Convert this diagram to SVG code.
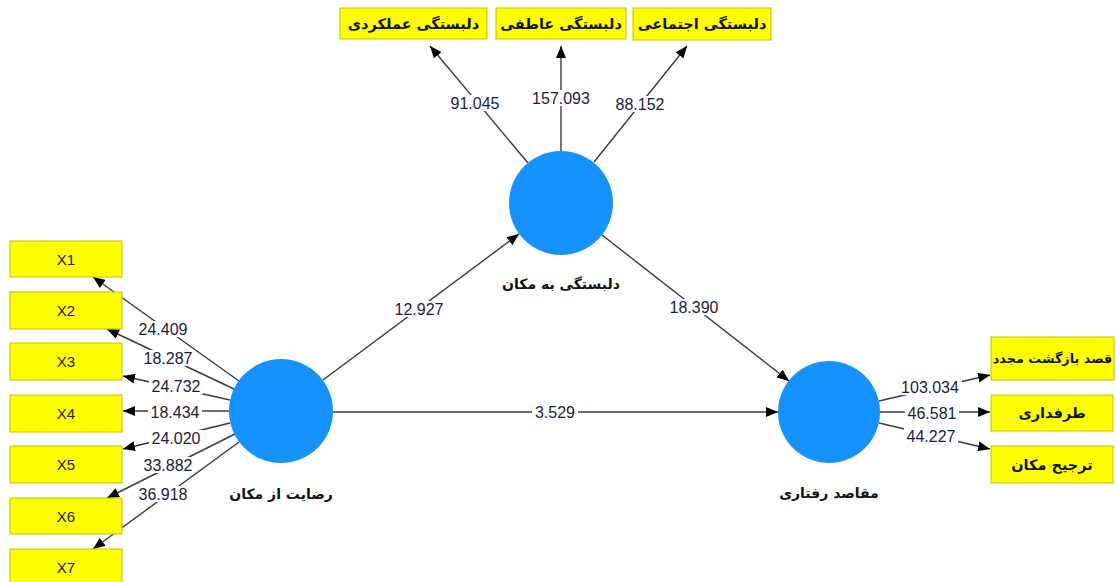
<svg xmlns="http://www.w3.org/2000/svg" width="1116" height="582" viewBox="0 0 1116 582">
<defs>
<marker id="arr" viewBox="0 0 12 10" refX="12" refY="5" markerWidth="12" markerHeight="10" markerUnits="userSpaceOnUse" orient="auto">
<path d="M0,0 L12,5 L0,10 z" fill="#000"/>
</marker>
<style>
.box{fill:#ffff00;stroke:#c2c200;stroke-width:1}
.lv{fill:#1592ff}
.ln{stroke:#3a3a3a;stroke-width:1.4;fill:none;marker-end:url(#arr)}
.bg{fill:#fff}
.num{font-family:"Liberation Sans",Arial,sans-serif;font-size:16px;fill:#1c1c3a;text-anchor:middle;dominant-baseline:central}
.xt{font-family:"Liberation Sans",Arial,sans-serif;font-size:15px;fill:#222;text-anchor:middle;dominant-baseline:central}
.fa{font-family:"DejaVu Sans",sans-serif;font-size:14px;font-weight:bold;fill:#111;text-anchor:middle;dominant-baseline:central}
.fb{font-family:"DejaVu Sans",sans-serif;font-size:14.5px;font-weight:bold;fill:#111;text-anchor:middle;dominant-baseline:central}
</style>
</defs>
<rect width="1116" height="582" fill="#fff"/>
<g id="connectors">
<line class="ln" x1="239" y1="381" x2="93" y2="277"/>
<line class="ln" x1="234" y1="389" x2="107" y2="329"/>
<line class="ln" x1="230" y1="400" x2="123" y2="376"/>
<line class="ln" x1="229" y1="411" x2="123" y2="411"/>
<line class="ln" x1="230" y1="423" x2="123" y2="449"/>
<line class="ln" x1="235" y1="434" x2="107" y2="498"/>
<line class="ln" x1="239" y1="442" x2="93" y2="549"/>
<line class="ln" x1="528" y1="163" x2="430" y2="46"/>
<line class="ln" x1="561" y1="151" x2="561" y2="46"/>
<line class="ln" x1="594" y1="162" x2="687" y2="46"/>
<line class="ln" x1="323" y1="380" x2="519" y2="234"/>
<line class="ln" x1="602" y1="235" x2="789" y2="381"/>
<line class="ln" x1="333" y1="412" x2="778" y2="412"/>
<line class="ln" x1="879" y1="401" x2="990" y2="375"/>
<line class="ln" x1="880" y1="412" x2="990" y2="412"/>
<line class="ln" x1="879" y1="423" x2="990" y2="449"/>
<rect class="bg" x="136" y="321" width="54" height="16"/>
<rect class="bg" x="141" y="350" width="54" height="16"/>
<rect class="bg" x="149" y="378" width="54" height="16"/>
<rect class="bg" x="148" y="404" width="54" height="16"/>
<rect class="bg" x="149" y="430" width="54" height="16"/>
<rect class="bg" x="141" y="457" width="54" height="16"/>
<rect class="bg" x="136" y="486" width="54" height="16"/>
<rect class="bg" x="448" y="95" width="54" height="16"/>
<rect class="bg" x="529" y="90" width="64" height="16"/>
<rect class="bg" x="613" y="96" width="54" height="16"/>
<rect class="bg" x="392" y="301" width="54" height="16"/>
<rect class="bg" x="667" y="299" width="54" height="16"/>
<rect class="bg" x="532" y="404" width="46" height="16"/>
<rect class="bg" x="898" y="379" width="64" height="16"/>
<rect class="bg" x="905" y="405" width="54" height="16"/>
<rect class="bg" x="904" y="428" width="54" height="16"/>
<text class="num" x="163" y="329">24.409</text>
<text class="num" x="168" y="358">18.287</text>
<text class="num" x="176" y="386">24.732</text>
<text class="num" x="175" y="412">18.434</text>
<text class="num" x="176" y="438">24.020</text>
<text class="num" x="168" y="465">33.882</text>
<text class="num" x="163" y="494">36.918</text>
<text class="num" x="475" y="103">91.045</text>
<text class="num" x="561" y="98">157.093</text>
<text class="num" x="640" y="104">88.152</text>
<text class="num" x="419" y="309">12.927</text>
<text class="num" x="694" y="307">18.390</text>
<text class="num" x="555" y="412">3.529</text>
<text class="num" x="930" y="387">103.034</text>
<text class="num" x="932" y="413">46.581</text>
<text class="num" x="931" y="436">44.227</text>
</g>
<g id="lv-satisfaction">
<circle class="lv" cx="281" cy="411" r="52"/>
<text class="fa" x="281" y="494">رضایت از مکان</text>
</g>
<g id="lv-attachment">
<circle class="lv" cx="561" cy="203" r="52"/>
<text class="fa" x="561" y="284">دلبستگی به مکان</text>
</g>
<g id="lv-intentions">
<circle class="lv" cx="829" cy="412" r="51"/>
<text class="fa" x="829" y="493">مقاصد رفتاری</text>
</g>
<g id="ind-x1"><rect class="box" x="10" y="241" width="112" height="36"/><text class="xt" x="66" y="259">X1</text></g>
<g id="ind-x2"><rect class="box" x="10" y="292" width="112" height="37"/><text class="xt" x="66" y="310.5">X2</text></g>
<g id="ind-x3"><rect class="box" x="10" y="343" width="112" height="37"/><text class="xt" x="66" y="361.5">X3</text></g>
<g id="ind-x4"><rect class="box" x="10" y="395" width="112" height="37"/><text class="xt" x="66" y="413.5">X4</text></g>
<g id="ind-x5"><rect class="box" x="10" y="446" width="112" height="37"/><text class="xt" x="66" y="464.5">X5</text></g>
<g id="ind-x6"><rect class="box" x="10" y="498" width="112" height="36"/><text class="xt" x="66" y="516">X6</text></g>
<g id="ind-x7"><rect class="box" x="10" y="549" width="112" height="37"/><text class="xt" x="66" y="567">X7</text></g>
<g id="ind-functional"><rect class="box" x="340" y="8" width="147" height="31"/><text class="fb" x="413.5" y="24">دلبستگی عملکردی</text></g>
<g id="ind-emotional"><rect class="box" x="496" y="8" width="130" height="31"/><text class="fb" x="561" y="24">دلبستگی عاطفی</text></g>
<g id="ind-social"><rect class="box" x="633" y="8" width="138" height="32"/><text class="fb" x="702" y="24">دلبستگی اجتماعی</text></g>
<g id="ind-revisit"><rect class="box" x="991" y="337" width="123" height="43"/><text class="fb" x="1052.5" y="358" style="font-size:12.8px">قصد بازگشت مجدد</text></g>
<g id="ind-advocacy"><rect class="box" x="991" y="395" width="122" height="36"/><text class="fb" x="1052" y="413">طرفداری</text></g>
<g id="ind-preference"><rect class="box" x="991" y="446" width="122" height="37"/><text class="fb" x="1052" y="465">ترجیح مکان</text></g>
</svg>
